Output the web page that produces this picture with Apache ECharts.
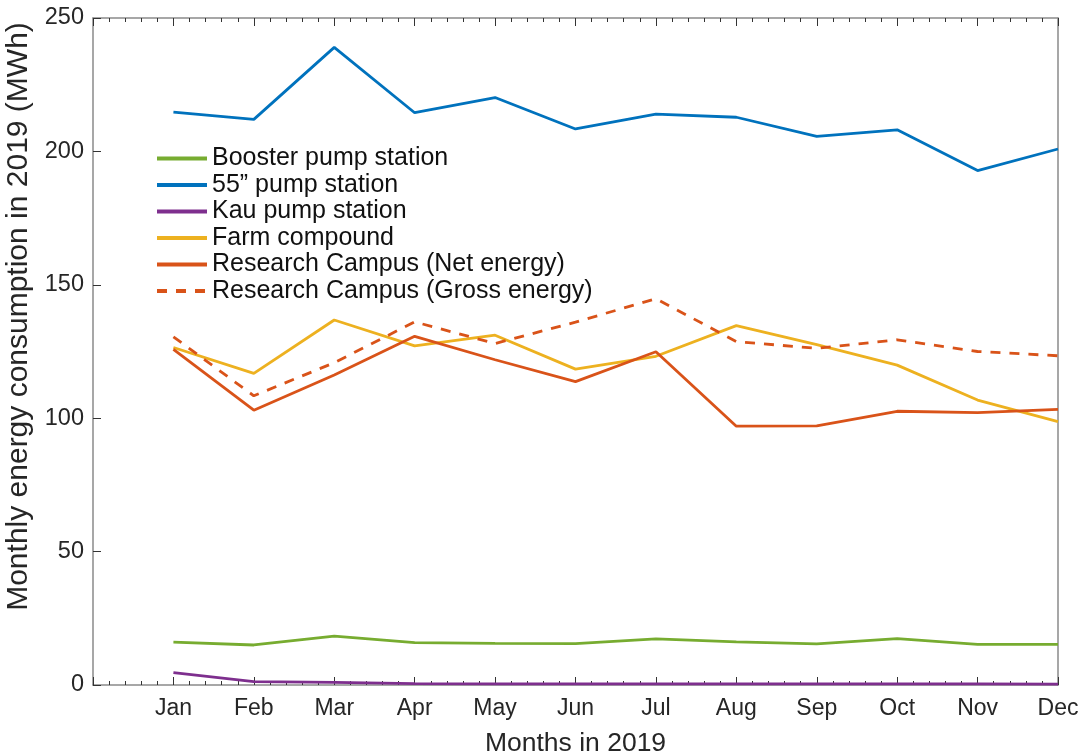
<!DOCTYPE html>
<html>
<head>
<meta charset="utf-8">
<script src="https://cdn.jsdelivr.net/npm/echarts@6/dist/echarts.min.js"></script>
<style>
  html, body { margin: 0; padding: 0; background: #fff; }
  #chart { width: 1086px; height: 756px; }
</style>
</head>
<body>
<div id="chart"></div>
<script>
// Monthly energy consumption in 2019 (MWh)
const months = ['Jan', 'Feb', 'Mar', 'Apr', 'May', 'Jun', 'Jul', 'Aug', 'Sep', 'Oct', 'Nov', 'Dec'];
const yTicks = [0, 50, 100, 150, 200, 250];

const booster = [16.1, 15.0, 18.3, 15.9, 15.6, 15.5, 17.3, 16.2, 15.4, 17.4, 15.2, 15.2];
const pump55 = [214.7, 212.0, 239.0, 214.5, 220.2, 208.4, 214.0, 212.8, 205.6, 208.1, 192.8, 200.9];
const kau = [4.6, 1.3, 1.0, 0.5, 0.4, 0.4, 0.4, 0.4, 0.4, 0.4, 0.4, 0.3];
const farm = [126.5, 116.8, 136.8, 127.1, 131.1, 118.4, 123.2, 134.7, 127.6, 119.9, 106.8, 98.7];
const netEnergy = [125.8, 103.0, 116.2, 130.7, 121.9, 113.7, 124.9, 97.0, 97.1, 102.6, 102.1, 103.3];
const grossEnergy = [130.5, 108.4, 120.8, 136.1, 128.0, 136.0, 144.8, 128.7, 126.2, 129.4, 125.0, 123.4];

const seriesDefs = [
  { name: 'Booster pump station', data: booster, color: '#77AC30', dashed: false },
  { name: '55\u201D pump station', data: pump55, color: '#0072BD', dashed: false },
  { name: 'Kau pump station', data: kau, color: '#7E2F8E', dashed: false },
  { name: 'Farm compound', data: farm, color: '#EDB120', dashed: false },
  { name: 'Research Campus (Net energy)', data: netEnergy, color: '#D95319', dashed: false },
  { name: 'Research Campus (Gross energy)', data: grossEnergy, color: '#D95319', dashed: true }
];

const FONT = '"Liberation Sans", Arial, Helvetica, sans-serif';
const AXIS_GRAY = '#8a8a8a';
const TEXT = '#262626';

const chart = echarts.init(document.getElementById('chart'), null, { renderer: 'canvas' });

const tickStyle = { color: '#333', width: 1 };

chart.setOption({
  backgroundColor: '#ffffff',
  animation: false,
  textStyle: { fontFamily: FONT },
  grid: { left: 93, right: 28, top: 18, bottom: 71, containLabel: false, outerBoundsMode: 'none' },
  legend: {
    orient: 'vertical',
    left: 155,
    top: 146,
    itemWidth: 50,
    itemHeight: 14,
    itemGap: 1.5,
    padding: 0,
    itemStyle: { opacity: 0 },
    lineStyle: { width: 4 },
    textStyle: { fontSize: 25, color: '#111', fontFamily: FONT, lineHeight: 25 },
    data: seriesDefs.map(s => s.name)
  },
  xAxis: [
    {
      type: 'value',
      min: 0,
      max: 12,
      interval: 1,
      position: 'bottom',
      name: 'Months in 2019',
      nameLocation: 'middle',
      nameGap: 45,
      nameTextStyle: { fontSize: 26.5, color: TEXT, fontFamily: FONT },
      axisLine: { show: true, onZero: false, lineStyle: { color: AXIS_GRAY, width: 1.5 } },
      axisTick: { show: true, inside: true, length: 8, lineStyle: tickStyle },
      minorTick: { show: true, splitNumber: 5, length: 4, lineStyle: tickStyle },
      axisLabel: {
        fontSize: 23,
        color: TEXT,
        margin: 12,
        formatter: v => months[v - 1] || ''
      },
      splitLine: { show: false }
    },
    {
      type: 'value',
      min: 0,
      max: 12,
      interval: 1,
      position: 'top',
      axisLine: { show: true, onZero: false, lineStyle: { color: AXIS_GRAY, width: 1.5 } },
      axisTick: { show: true, inside: true, length: 8, lineStyle: tickStyle },
      minorTick: { show: true, splitNumber: 5, length: 4, lineStyle: tickStyle },
      axisLabel: { show: false },
      splitLine: { show: false }
    }
  ],
  yAxis: [
    {
      type: 'value',
      min: yTicks[0],
      max: yTicks[yTicks.length - 1],
      interval: yTicks[1] - yTicks[0],
      position: 'left',
      name: 'Monthly energy consumption in 2019 (MWh)',
      nameLocation: 'middle',
      nameGap: 55,
      nameTextStyle: { fontSize: 30, color: TEXT, fontFamily: FONT, padding: [0, 0, 0, 70] },
      axisLine: { show: true, onZero: false, lineStyle: { color: AXIS_GRAY, width: 1.5 } },
      axisTick: { show: true, inside: true, length: 8, lineStyle: tickStyle },
      axisLabel: { fontSize: 23.5, color: TEXT, margin: 9 },
      splitLine: { show: false }
    },
    {
      type: 'value',
      min: yTicks[0],
      max: yTicks[yTicks.length - 1],
      interval: yTicks[1] - yTicks[0],
      position: 'right',
      axisLine: { show: true, onZero: false, lineStyle: { color: AXIS_GRAY, width: 1.5 } },
      axisTick: { show: false },
      axisLabel: { show: false },
      splitLine: { show: false }
    }
  ],
  series: seriesDefs.map(s => ({
    name: s.name,
    type: 'line',
    xAxisIndex: 0,
    yAxisIndex: 0,
    symbol: 'none',
    clip: false,
    color: s.color,
    lineStyle: {
      color: s.color,
      width: 2.8,
      type: s.dashed ? [10, 9] : 'solid'
    },
    itemStyle: { color: s.color },
    data: s.data.map((v, i) => [i + 1, v])
  }))
});
</script>
</body>
</html>
